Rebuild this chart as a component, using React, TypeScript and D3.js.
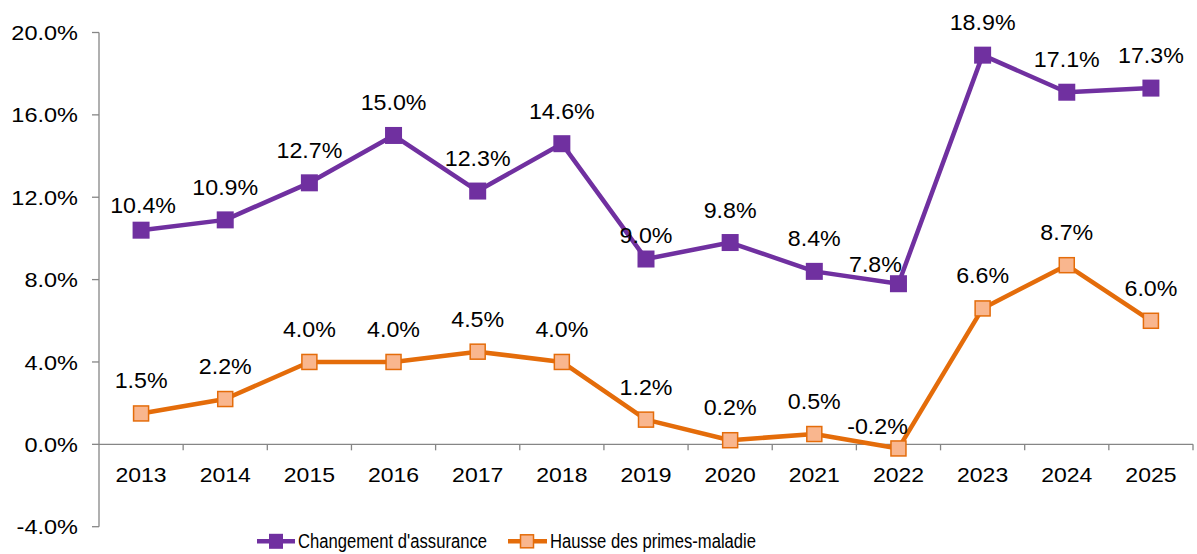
import React from "react";
import * as d3 from "d3";

const years = ["2013","2014","2015","2016","2017","2018","2019","2020","2021","2022","2023","2024","2025"];
const changement = [10.4, 10.9, 12.7, 15.0, 12.3, 14.6, 9.0, 9.8, 8.4, 7.8, 18.9, 17.1, 17.3];
const hausse = [1.5, 2.2, 4.0, 4.0, 4.5, 4.0, 1.2, 0.2, 0.5, -0.2, 6.6, 8.7, 6.0];
const yTicks = [-4, 0, 4, 8, 12, 16, 20];
const seriesNames = ["Changement d'assurance", "Hausse des primes-maladie"];

const W = 1197, H = 554;
const PURPLE = "#7030A0";
const ORANGE = "#E46C0A";
const PEACH = "#F9B68E";
const AXIS = "#868686";
const FONT = "'Liberation Sans', Arial, sans-serif";

// label placement tweaks (series index, point index) -> [dx, baseline offset above point]
const labelTweaks: Record<string, [number, number]> = {
  "0-0": [2, 17],
  "0-6": [0, 16],
  "0-9": [-23, 12],
  "1-9": [-21, 14],
};

function T({ x, y, sx = 1, size, anchor = "middle", dy, children }: any) {
  return (
    <g transform={`translate(${x},${y}) scale(${sx},1)`}>
      <text x={0} y={0} dy={dy} textAnchor={anchor} fontSize={size} fill="#000">{children}</text>
    </g>
  );
}

export default function App() {
  const x = d3.scaleBand<string>().domain(years).range([99, 1193]).padding(0);
  const y = d3.scaleLinear().domain([-4, 20]).range([526.7, 32.5]);
  const cx = (yr: string) => (x(yr) as number) + x.bandwidth() / 2;
  const line = d3.line<number>().x((_, i) => cx(years[i])).y((v) => y(v));

  const series = [
    { vals: changement, color: PURPLE, fill: PURPLE, size: 17, stroke: 0 },
    { vals: hausse, color: ORANGE, fill: PEACH, size: 15, stroke: 1.5 },
  ];
  const y0 = y(0);

  return (
    <svg width={W} height={H} style={{ position: "absolute", left: 0, top: 0, background: "#fff" }} fontFamily={FONT}>
      {/* y axis */}
      <line x1={99} x2={99} y1={y(20)} y2={y(-4)} stroke={AXIS} strokeWidth={1.3} />
      {yTicks.map((t) => (
        <g key={t}>
          <line x1={92} x2={99} y1={y(t)} y2={y(t)} stroke={AXIS} strokeWidth={1.3} />
          <T x={78} y={y(t)} dy="0.36em" anchor="end" size={21} sx={1.12}>{t.toFixed(1) + "%"}</T>
        </g>
      ))}
      {/* x axis at 0 */}
      <line x1={99} x2={1193} y1={y0} y2={y0} stroke={AXIS} strokeWidth={1.3} />
      {years.map((yr) => (
        <g key={yr}>
          <line x1={(x(yr) as number) + x.bandwidth()} x2={(x(yr) as number) + x.bandwidth()} y1={y0} y2={y0 + 6} stroke={AXIS} strokeWidth={1.3} />
          <T x={cx(yr)} y={482} size={20} sx={1.15}>{yr}</T>
        </g>
      ))}
      {/* series */}
      {series.map((s, si) => (
        <g key={si}>
          <path d={line(s.vals) as string} fill="none" stroke={s.color} strokeWidth={4.5} strokeLinejoin="round" />
          {s.vals.map((v, i) => (
            <rect key={i} x={cx(years[i]) - s.size / 2} y={y(v) - s.size / 2} width={s.size} height={s.size}
              fill={s.fill} stroke={s.stroke ? s.color : "none"} strokeWidth={s.stroke} />
          ))}
          {s.vals.map((v, i) => {
            const tw = labelTweaks[`${si}-${i}`] || [0, 25];
            return (
              <T key={"l" + i} x={cx(years[i]) + tw[0]} y={y(v) - tw[1]} size={21.5} sx={1.08}>
                {v.toFixed(1) + "%"}
              </T>
            );
          })}
        </g>
      ))}
      {/* legend */}
      <g>
        <line x1={257} x2={295} y1={541.3} y2={541.3} stroke={PURPLE} strokeWidth={4.5} />
        <rect x={276 - 7} y={541.3 - 7.5} width={14} height={15} fill={PURPLE} />
        <text x={298} y={547.5} fontSize={20} fill="#000" textLength={189} lengthAdjust="spacingAndGlyphs">{seriesNames[0]}</text>
        <line x1={508} x2={547} y1={541.3} y2={541.3} stroke={ORANGE} strokeWidth={4.5} />
        <rect x={527 - 6.5} y={541.3 - 6.5} width={13} height={13} fill={PEACH} stroke={ORANGE} strokeWidth={1.5} />
        <text x={550} y={547.5} fontSize={20} fill="#000" textLength={206} lengthAdjust="spacingAndGlyphs">{seriesNames[1]}</text>
      </g>
    </svg>
  );
}
